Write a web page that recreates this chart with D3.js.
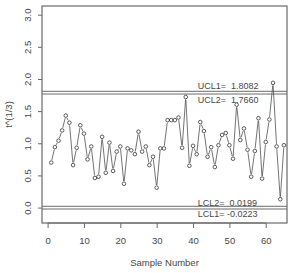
<!DOCTYPE html>
<html>
<head>
<meta charset="utf-8">
<script src="https://cdn.jsdelivr.net/npm/d3@7.9.0/dist/d3.min.js"></script>
<style>
  body { margin: 0; background: #fff; }
  svg { display: block; font-family: "Liberation Sans", Arial, sans-serif; }
</style>
</head>
<body>
<div id="chart"></div>
<script>
// t^(1/3) per sample
const samples = d3.range(1, 66);
const values = [
  0.70, 0.94, 1.04, 1.20, 1.43, 1.32, 0.66, 0.93, 1.28, 1.15,
  0.75, 0.95, 0.46, 0.48, 1.10, 0.54, 1.01, 0.57, 0.87, 0.95,
  0.37, 0.92, 0.89, 0.83, 1.18, 0.87, 0.95, 0.66, 0.79, 0.31,
  0.92, 0.92, 1.36, 1.36, 1.36, 1.40, 0.93, 1.72, 0.65, 0.96,
  0.83, 1.33, 1.19, 0.79, 0.94, 0.63, 0.97, 1.13, 1.16, 0.97,
  0.76, 1.60, 1.05, 1.23, 0.90, 0.48, 0.88, 1.39, 0.45, 1.02,
  1.37, 1.94, 0.95, 0.13, 0.97
];
const limitNames = ['UCL1', 'UCL2', 'LCL2', 'LCL1'];
const limitValues = [1.8082, 1.7660, 0.0199, -0.0223];
const limitLabels = ['UCL1=  1.8082', 'UCL2=  1.7660', 'LCL2=  0.0199', 'LCL1= -0.0223'];
const xTicks = [0, 10, 20, 30, 40, 50, 60];
const yTicks = [0, 0.5, 1, 1.5, 2, 2.5, 3];

const width = 299, height = 273;
const box = { left: 42, right: 287, top: 6, bottom: 223 };

const svg = d3.select('#chart').append('svg')
  .attr('width', width).attr('height', height);

const x = d3.scaleLinear().domain([-1.54, 65.85]).range([box.left, box.right]);
const y = d3.scaleLinear().domain([-0.24, 3.135]).range([box.bottom, box.top]);

const grey = '#6a6a6a';
const textCol = '#474747';

// axes (R style: outside ticks, box drawn separately)
const xAxis = svg.append('g')
  .attr('transform', `translate(0, ${box.bottom})`)
  .call(d3.axisBottom(x).tickValues(xTicks).tickSize(5).tickPadding(9).tickSizeOuter(0));
xAxis.select('.domain').remove();
xAxis.selectAll('line').attr('stroke', grey);
xAxis.selectAll('text').attr('fill', textCol).attr('font-size', 9.5)
  .attr('font-family', '"Liberation Sans", Arial, sans-serif');

svg.append('line')
  .attr('x1', x(0)).attr('x2', x(60))
  .attr('y1', box.bottom).attr('y2', box.bottom)
  .attr('stroke', grey);

const yAxis = svg.append('g')
  .attr('transform', `translate(${box.left}, 0)`)
  .call(d3.axisLeft(y).tickValues(yTicks).tickSize(4).tickFormat(d3.format('.1f')));
yAxis.select('.domain').remove();
yAxis.selectAll('line').attr('stroke', grey);
yAxis.selectAll('text')
  .attr('fill', textCol).attr('font-size', 9.5)
  .attr('font-family', '"Liberation Sans", Arial, sans-serif')
  .attr('text-anchor', 'middle')
  .attr('dy', 0)
  .attr('x', 0)
  .attr('transform', 'translate(-11, 0) rotate(-90)');

// plot box
svg.append('rect')
  .attr('x', box.left).attr('y', box.top)
  .attr('width', box.right - box.left).attr('height', box.bottom - box.top)
  .attr('fill', 'none').attr('stroke', grey).attr('stroke-width', 1.2);

// control limits
svg.append('g').selectAll('line')
  .data(limitValues)
  .join('line')
  .attr('x1', box.left).attr('x2', box.right)
  .attr('y1', d => y(d)).attr('y2', d => y(d))
  .attr('stroke', grey).attr('stroke-width', 1);

const labelDy = [-2.5, 8.5, 0, 7.5];
svg.append('g').selectAll('text')
  .data(limitLabels)
  .join('text')
  .attr('x', x(41.3))
  .attr('y', (d, i) => y(limitValues[i]) + labelDy[i])
  .attr('font-size', 9)
  .attr('fill', textCol)
  .style('white-space', 'pre')
  .text(d => d);

// points joined R "type = b" style: segments stop short of each circle
const pts = samples.map((s, i) => [x(s), y(values[i])]);
const r = 1.8;
const gap = 2.6;
const segs = d3.pairs(pts).map(([a, b]) => {
  const dx = b[0] - a[0], dy = b[1] - a[1];
  const len = Math.hypot(dx, dy);
  if (len <= 2 * gap) return null;
  const ux = dx / len, uy = dy / len;
  return [a[0] + ux * gap, a[1] + uy * gap, b[0] - ux * gap, b[1] - uy * gap];
}).filter(Boolean);

svg.append('g').selectAll('line')
  .data(segs)
  .join('line')
  .attr('x1', d => d[0]).attr('y1', d => d[1])
  .attr('x2', d => d[2]).attr('y2', d => d[3])
  .attr('stroke', '#505050').attr('stroke-width', 0.8);

svg.append('g').selectAll('circle')
  .data(pts)
  .join('circle')
  .attr('cx', d => d[0]).attr('cy', d => d[1])
  .attr('r', r)
  .attr('fill', 'none').attr('stroke', '#2a2a2a').attr('stroke-width', 0.75);

// axis titles
svg.append('text')
  .attr('x', (box.left + box.right) / 2).attr('y', 266)
  .attr('text-anchor', 'middle').attr('font-size', 9.5).attr('fill', textCol)
  .text('Sample Number');

svg.append('text')
  .attr('transform', `translate(12, ${(box.top + box.bottom) / 2}) rotate(-90)`)
  .attr('text-anchor', 'middle').attr('font-size', 9.5).attr('fill', textCol)
  .text('t^(1/3)');
</script>
</body>
</html>
